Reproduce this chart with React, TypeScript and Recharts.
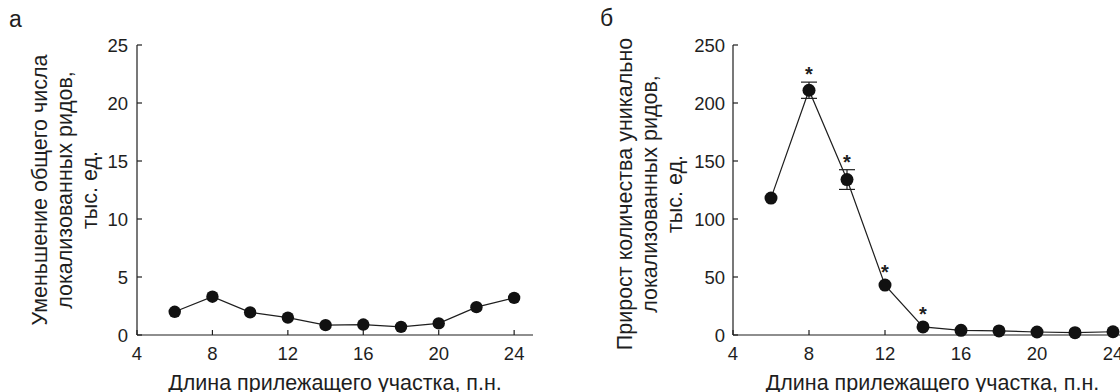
import { LineChart, Line, XAxis, YAxis, ErrorBar, LabelList, Label } from 'recharts';

const lengths = [6, 8, 10, 12, 14, 16, 18, 20, 22, 24];
const xTicks = [4, 8, 12, 16, 20, 24];

// panel a
const totalDecrease = [2.0, 3.3, 1.95, 1.5, 0.85, 0.9, 0.7, 1.0, 2.4, 3.2];
const yTicksA = [0, 5, 10, 15, 20, 25];
const yLabelA = ['Уменьшение общего числа', 'локализованных ридов,', 'тыс. ед.'];

// panel б
const uniqueGain = [118, 211, 134, 43, 7, 4, 3.5, 2.6, 2, 2.8];
const uniqueErr = [0, 7, 8.5, 0, 0, 0, 0, 0, 0, 0];
const significant = [false, true, true, true, true, false, false, false, false, false];
const yTicksB = [0, 50, 100, 150, 200, 250];
const yLabelB = ['Прирост количества уникально', 'локализованных ридов,', 'тыс. ед.'];

const xTitle = 'Длина прилежащего участка, п.н.';

const dataA = lengths.map((x, i) => ({ x, y: totalDecrease[i] }));
const dataB = lengths.map((x, i) => ({
  x,
  y: uniqueGain[i],
  err: uniqueErr[i],
  top: uniqueGain[i] + uniqueErr[i],
  star: significant[i] ? '*' : '',
}));

const FONT = '"Liberation Sans", Arial, sans-serif';
const INK = '#1e1e1e';
const TITLE_SIZE = 21.5;
const tickStyle = { fontSize: 18.5, fill: INK, fontFamily: FONT };

const yTitle = (lines: string[], dx: number, dy: number) => (props: any) => {
  const vb = props.viewBox || {};
  const cy = vb.y + vb.height / 2 + dy;
  return (
    <g>
      {lines.map((t, i) => {
        const cx = vb.x + dx + i * 25;
        return (
          <text
            key={i}
            x={cx}
            y={cy}
            transform={`rotate(-90, ${cx}, ${cy})`}
            textAnchor="middle"
            dominantBaseline="central"
            fontSize={TITLE_SIZE}
            fontFamily={FONT}
            fill={INK}
          >
            {t}
          </text>
        );
      })}
    </g>
  );
};

const xTitleContent = (props: any) => {
  const vb = props.viewBox || {};
  return (
    <text
      x={vb.x + vb.width / 2}
      y={383}
      textAnchor="middle"
      dominantBaseline="central"
      fontSize={TITLE_SIZE}
      fontFamily={FONT}
      fill={INK}
    >
      {xTitle}
    </text>
  );
};

const Dot = (r: number) => (props: any) => {
  const { cx, cy } = props;
  if (cx == null || cy == null) return null;
  return <circle cx={cx} cy={cy} r={r} fill="#111" stroke="none" />;
};

const Star = (props: any) => {
  const { x, y, value, index } = props;
  if (!value) return null;
  const lift = uniqueErr[index] > 0 ? 1 : 6;
  return (
    <text x={x} y={y - lift} textAnchor="middle" fontSize={20} fontFamily={FONT} fontWeight="bold" fill={INK}>
      {value}
    </text>
  );
};

const panelLetter = (text: string, left: number, top: number) => (
  <div
    style={{
      position: 'absolute',
      left,
      top,
      fontFamily: FONT,
      fontSize: 23,
      color: INK,
      lineHeight: '23px',
    }}
  >
    {text}
  </div>
);

export default function App() {
  return (
    <div
      style={{
        position: 'fixed',
        left: 0,
        top: 0,
        width: 1120,
        height: 392,
        overflow: 'hidden',
        background: '#fff',
      }}
    >
      {panelLetter('а', 9, 8)}
      {panelLetter('б', 600, 7)}

      <div style={{ position: 'absolute', left: 0, top: 0 }}>
        <LineChart width={560} height={392} data={dataA} margin={{ top: 45, right: 27, bottom: 0, left: 77 }}>
          <XAxis
            type="number"
            dataKey="x"
            domain={[4, 25]}
            ticks={xTicks}
            height={57}
            tickSize={-5}
            tickMargin={17}
            tick={tickStyle}
            stroke={INK}
            strokeWidth={1.2}
          >
            <Label content={xTitleContent} />
          </XAxis>
          <YAxis
            type="number"
            domain={[0, 25]}
            ticks={yTicksA}
            width={60}
            tickSize={-5}
            tickMargin={14}
            tick={tickStyle}
            stroke={INK}
            strokeWidth={1.2}
          >
            <Label content={yTitle(yLabelA, -37, 0)} />
          </YAxis>
          <Line
            dataKey="y"
            stroke={INK}
            strokeWidth={1.2}
            dot={Dot(6.2)}
            activeDot={false}
            isAnimationActive={false}
          />
        </LineChart>
      </div>

      <div style={{ position: 'absolute', left: 560, top: 0 }}>
        <LineChart width={600} height={392} data={dataB} margin={{ top: 45, right: 28, bottom: 0, left: 113 }}>
          <XAxis
            type="number"
            dataKey="x"
            domain={[4, 25]}
            ticks={xTicks}
            height={57}
            tickSize={-5}
            tickMargin={17}
            tick={tickStyle}
            stroke={INK}
            strokeWidth={1.2}
          >
            <Label content={xTitleContent} />
          </XAxis>
          <YAxis
            type="number"
            domain={[0, 250]}
            ticks={yTicksB}
            width={60}
            tickSize={-5}
            tickMargin={13}
            tick={tickStyle}
            stroke={INK}
            strokeWidth={1.2}
          >
            <Label content={yTitle(yLabelB, -48, 4)} />
          </YAxis>
          <Line
            dataKey="y"
            stroke={INK}
            strokeWidth={1.2}
            dot={Dot(6.5)}
            activeDot={false}
            isAnimationActive={false}
          >
            <ErrorBar dataKey="err" width={8} stroke={INK} strokeWidth={1.2} direction="y" />
          </Line>
          <Line
            dataKey="top"
            stroke="none"
            dot={false}
            activeDot={false}
            isAnimationActive={false}
          >
            <LabelList dataKey="star" content={Star} />
          </Line>
        </LineChart>
      </div>
    </div>
  );
}
